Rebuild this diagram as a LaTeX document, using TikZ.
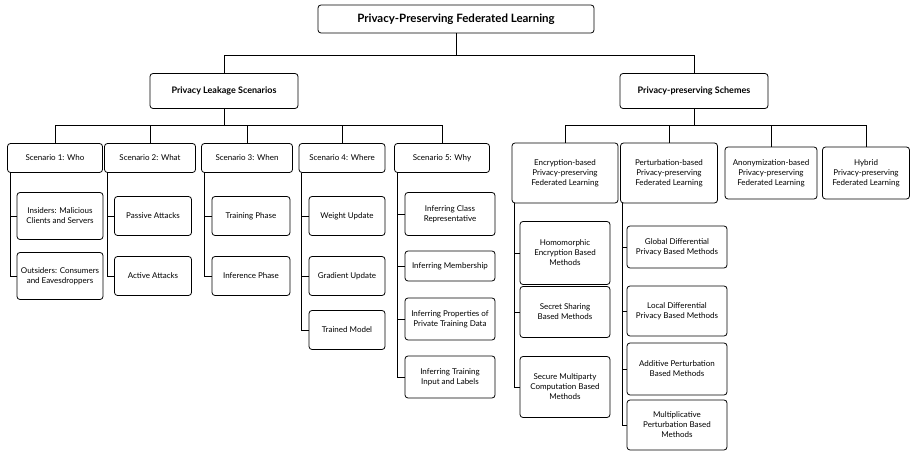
\documentclass[tikz,border=0pt]{standalone}
\usepackage{fontspec}
\setmainfont{Lato}
\usetikzlibrary{positioning}

\tikzset{
  box/.style={draw, rounded corners=3pt, line width=0.8pt, align=center, inner sep=1pt, font=\fontsize{8}{10}\selectfont},
  head/.style={box, font=\fontsize{9}{11}\selectfont\bfseries},
  link/.style={line width=0.9pt},
}

\begin{document}
\begin{tikzpicture}[x=1pt, y=-1pt]
    \useasboundingbox (0,0) rectangle (914,454);

    % top levels
    \node[box, font=\fontsize{11.5}{13}\selectfont\bfseries, minimum width=276pt, minimum height=28pt] (ppfl) at (456,19) {Privacy-Preserving Federated Learning};
    \node[head, minimum width=148pt, minimum height=35pt] (pls) at (224,91) {Privacy Leakage Scenarios};
    \node[head, minimum width=148pt, minimum height=35pt] (pps) at (694,91) {Privacy-preserving Schemes};

    % scenarios
    \node[box, minimum width=95pt, minimum height=29pt] (s1) at (55,158) {Scenario 1: Who};
    \node[box, minimum width=91pt, minimum height=29pt] (s2) at (150,158) {Scenario 2: What};
    \node[box, minimum width=91pt, minimum height=29pt] (s3) at (247,158) {Scenario 3: When};
    \node[box, minimum width=86pt, minimum height=29pt] (s4) at (342,158) {Scenario 4: Where};
    \node[box, minimum width=95pt, minimum height=29pt] (s5) at (442,158) {Scenario 5: Why};

    \node[box, minimum width=86pt, minimum height=47pt] (s1a) at (60,216) {Insiders: Malicious\\Clients and Servers};
    \node[box, minimum width=86pt, minimum height=47pt] (s1b) at (60,276) {Outsiders: Consumers\\and Eavesdroppers};
    \node[box, minimum width=77pt, minimum height=39pt] (s2a) at (153,216) {Passive Attacks};
    \node[box, minimum width=77pt, minimum height=39pt] (s2b) at (153,276) {Active Attacks};
    \node[box, minimum width=78pt, minimum height=39pt] (s3a) at (251,216) {Training Phase};
    \node[box, minimum width=78pt, minimum height=39pt] (s3b) at (251,276) {Inference Phase};
    \node[box, minimum width=76pt, minimum height=39pt] (s4a) at (347,216) {Weight Update};
    \node[box, minimum width=76pt, minimum height=39pt] (s4b) at (347,276) {Gradient Update};
    \node[box, minimum width=76pt, minimum height=39pt] (s4c) at (347,330) {Trained Model};
    \node[box, minimum width=90pt, minimum height=43pt] (s5a) at (450,214) {Inferring Class\\Representative};
    \node[box, minimum width=90pt, minimum height=30pt] (s5b) at (450,266) {Inferring Membership};
    \node[box, minimum width=90pt, minimum height=42pt] (s5c) at (450,319) {Inferring Properties of\\Private Training Data};
    \node[box, minimum width=90pt, minimum height=42pt] (s5d) at (450,377) {Inferring Training\\Input and Labels};

    % schemes
    \node[box, minimum width=106pt, minimum height=60pt] (enc) at (565,173) {Encryption-based\\Privacy-preserving\\Federated Learning};
    \node[box, minimum width=97pt, minimum height=60pt] (per) at (669,173) {Perturbation-based\\Privacy-preserving\\Federated Learning};
    \node[box, minimum width=92pt, minimum height=52pt] (ano) at (771,173) {Anonymization-based\\Privacy-preserving\\Federated Learning};
    \node[box, minimum width=87pt, minimum height=52pt] (hyb) at (866,173) {Hybrid\\Privacy-preserving\\Federated Learning};

    \node[box, minimum width=90pt, minimum height=63pt] (enca) at (565,253) {Homomorphic\\Encryption Based\\Methods};
    \node[box, minimum width=90pt, minimum height=51pt] (encb) at (565,312) {Secret Sharing\\Based Methods};
    \node[box, minimum width=90pt, minimum height=61pt] (encc) at (565,387) {Secure Multiparty\\Computation Based\\Methods};
    \node[box, minimum width=100pt, minimum height=42pt] (pera) at (677,247) {Global Differential\\Privacy Based Methods};
    \node[box, minimum width=100pt, minimum height=50pt] (perb) at (677,311) {Local Differential\\Privacy Based Methods};
    \node[box, minimum width=100pt, minimum height=52pt] (perc) at (677,369) {Additive Perturbation\\Based Methods};
    \node[box, minimum width=100pt, minimum height=50pt] (perd) at (677,425) {Multiplicative\\Perturbation Based\\Methods};

    % tree links
    \draw[link] (ppfl.south) -- ++(0,22) coordinate (j0);
    \draw[link] (pls.north) |- (j0) -| (pps.north);
    \draw[link] (pls.south) -- ++(0,17) coordinate (j1);
    \draw[link] (s1.north) |- (j1) -| (s5.north);
    \foreach \s in {s2,s3,s4} \draw[link] (\s.north) -- (\s.north |- j1);
    \draw[link] (pps.south) -- ++(0,17) coordinate (j2);
    \draw[link] (enc.north) |- (j2) -| (hyb.north);
    \foreach \s in {per,ano} \draw[link] (\s.north) -- (\s.north |- j2);

    \draw[link] ([xshift=3pt]s1.south west) |- (s1b.west);
    \draw[link] ([xshift=3pt]s1.south west |- s1a.west) -- (s1a.west);
    \draw[link] ([xshift=3pt]s2.south west) |- (s2b.west);
    \draw[link] ([xshift=3pt]s2.south west |- s2a.west) -- (s2a.west);
    \draw[link] ([xshift=3pt]s3.south west) |- (s3b.west);
    \draw[link] ([xshift=3pt]s3.south west |- s3a.west) -- (s3a.west);
    \draw[link] ([xshift=3pt]s4.south west) |- (s4c.west);
    \foreach \c in {s4a,s4b} \draw[link] ([xshift=3pt]s4.south west |- \c.west) -- (\c.west);
    \draw[link] ([xshift=3pt]s5.south west) |- (s5d.west);
    \foreach \c in {s5a,s5b,s5c} \draw[link] ([xshift=3pt]s5.south west |- \c.west) -- (\c.west);
    \draw[link] ([xshift=3pt]enc.south west) |- (encc.west);
    \foreach \c in {enca,encb} \draw[link] ([xshift=3pt]enc.south west |- \c.west) -- (\c.west);
    \draw[link] ([xshift=2pt]per.south west) |- (perd.west);
    \foreach \c in {pera,perb,perc} \draw[link] ([xshift=2pt]per.south west |- \c.west) -- (\c.west);
\end{tikzpicture}
\end{document}
